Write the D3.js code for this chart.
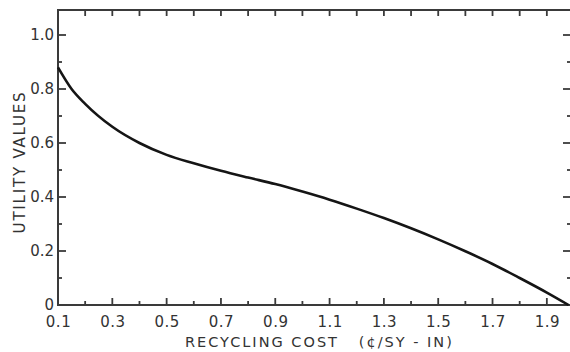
<!DOCTYPE html>
<html>
<head>
<meta charset="utf-8">
<script src="https://cdn.jsdelivr.net/npm/d3@7"></script>
<style>
  body { margin: 0; background: #fff; }
  svg { display: block; }
  text { font-family: "DejaVu Sans", sans-serif; fill: #333; }
</style>
</head>
<body>
<svg id="chart" width="570" height="352"></svg>
<script>
// recycling cost (cents / SY-IN) vs utility value
const cost = [0.1, 0.15, 0.2, 0.3, 0.4, 0.5, 0.6, 0.7, 0.8, 0.9, 1.0, 1.1, 1.2, 1.3, 1.4, 1.5, 1.6, 1.7, 1.8, 1.9, 1.98];
const utility = [0.88, 0.80, 0.745, 0.66, 0.60, 0.556, 0.525, 0.497, 0.472, 0.448, 0.42, 0.39, 0.357, 0.322, 0.284, 0.243, 0.199, 0.152, 0.10, 0.046, 0.0];

const xLabelTicks = [0.1, 0.3, 0.5, 0.7, 0.9, 1.1, 1.3, 1.5, 1.7, 1.9];
const xMinorTicks = [0.2, 0.4, 0.6, 0.8, 1.0, 1.2, 1.4, 1.6, 1.8];
const yLabelTicks = [0, 0.2, 0.4, 0.6, 0.8, 1.0];
const yMinorTicks = [0.1, 0.3, 0.5, 0.7, 0.9];

const xTitle = 'RECYCLING COST   (¢/SY - IN)';
const yTitle = 'UTILITY VALUES';

const MARGINS = { left: 58, top: 10, right: 572, bottom: 305 };
const ink = '#3a3a3a';

const svg = d3.select('#chart');

const x = d3.scaleLinear().domain([0.1, 2.0]).range([MARGINS.left, 574]);
const y = d3.scaleLinear().domain([0, 1.0]).range([MARGINS.bottom, 35]);

const fmt = d => d === 0 ? '0' : d3.format('.1f')(d);

// tick marks, drawn inward from the frame
function ticks(values, orient, pos, len) {
  const g = svg.append('g').attr('class', 'ticks-' + orient);
  g.selectAll('line')
    .data(values)
    .join('line')
    .attr('x1', d => orient === 'x' ? x(d) : pos)
    .attr('x2', d => orient === 'x' ? x(d) : pos + len)
    .attr('y1', d => orient === 'x' ? pos : y(d))
    .attr('y2', d => orient === 'x' ? pos + len : y(d))
    .attr('stroke', ink)
    .attr('stroke-width', 1.8);
}

ticks(xLabelTicks.filter(d => d > 0.1), 'x', MARGINS.bottom, -7);
ticks(xMinorTicks, 'x', MARGINS.bottom, -4);
ticks(xLabelTicks.concat(xMinorTicks).filter(d => d > 0.1), 'x', MARGINS.top, 6);
ticks(yLabelTicks.filter(d => d > 0), 'y', MARGINS.left, 8);
ticks(yMinorTicks, 'y', MARGINS.left, 4);
ticks(yLabelTicks.filter(d => d > 0), 'y', MARGINS.right, -9);
ticks(yMinorTicks, 'y', MARGINS.right, -5);

// labels through the axis generators, tick lines removed
svg.append('g')
  .attr('transform', `translate(0,${MARGINS.bottom})`)
  .call(d3.axisBottom(x).tickValues(xLabelTicks).tickSize(0).tickPadding(11).tickFormat(fmt))
  .call(g => g.select('.domain').remove())
  .call(g => g.selectAll('.tick line').remove())
  .call(g => g.selectAll('text').attr('font-size', 15).attr('letter-spacing', 0.5).attr('fill', '#333'));

svg.append('g')
  .attr('transform', `translate(${MARGINS.left},0)`)
  .call(d3.axisLeft(y).tickValues(yLabelTicks).tickSize(0).tickPadding(4).tickFormat(fmt))
  .call(g => g.select('.domain').remove())
  .call(g => g.selectAll('.tick line').remove())
  .call(g => g.selectAll('text').attr('font-size', 15).attr('fill', '#333'));

// frame: left, top, bottom
const frame = d3.path();
frame.moveTo(MARGINS.right, MARGINS.top);
frame.lineTo(MARGINS.left, MARGINS.top);
frame.lineTo(MARGINS.left, MARGINS.bottom);
frame.lineTo(MARGINS.right, MARGINS.bottom);

svg.append('path')
  .attr('d', frame.toString())
  .attr('fill', 'none')
  .attr('stroke', ink)
  .attr('stroke-width', 2);

// curve
const line = d3.line()
  .x((d, i) => x(cost[i]))
  .y(d => y(d))
  .curve(d3.curveMonotoneX);

svg.append('path')
  .datum(utility)
  .attr('d', line)
  .attr('fill', 'none')
  .attr('stroke', '#151515')
  .attr('stroke-width', 2.6);

// titles
svg.append('text')
  .attr('x', 185)
  .attr('y', 347)
  .attr('font-size', 14.5)
  .attr('letter-spacing', 2)
  .style('white-space', 'pre')
  .text(xTitle);

svg.append('text')
  .attr('transform', 'translate(25,162) rotate(-90)')
  .attr('text-anchor', 'middle')
  .attr('font-size', 15)
  .attr('letter-spacing', 1.8)
  .text(yTitle);
</script>
</body>
</html>
